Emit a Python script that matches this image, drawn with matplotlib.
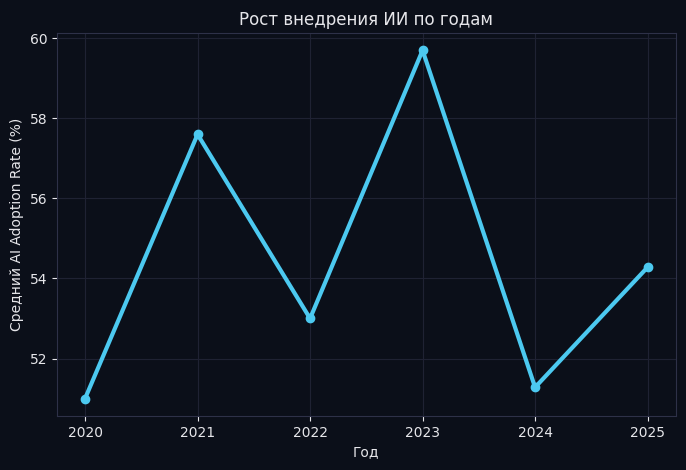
import matplotlib
matplotlib.use("Agg")
import matplotlib.pyplot as plt

# data
years = [2020, 2021, 2022, 2023, 2024, 2025]
adoption = [51.0, 57.6, 53.0, 59.7, 51.28, 54.28]

bg = "#0b0f19"
text_color = "#e6e6ea"
line_color = "#4cc9f0"
grid_color = "#1f2233"
spine_color = "#2e3148"

fig, ax = plt.subplots(figsize=(6.86, 4.70), dpi=100)
fig.patch.set_facecolor(bg)
ax.set_facecolor(bg)

ax.plot(years, adoption, color=line_color, linewidth=3, marker="o", markersize=6)

ax.set_title("Рост внедрения ИИ по годам", color=text_color, fontsize=12)
ax.set_xlabel("Год", color=text_color, fontsize=10)
ax.set_ylabel("Средний AI Adoption Rate (%)", color=text_color, fontsize=10)

ax.set_xticks(years)
ax.set_yticks([52, 54, 56, 58, 60])
ax.tick_params(colors=text_color, labelsize=10)
ax.grid(True, color=grid_color, linewidth=0.8)
for s in ax.spines.values():
    s.set_color(spine_color)

fig.subplots_adjust(left=0.083, right=0.985, top=0.93, bottom=0.115)
fig.savefig("out.png", dpi=100, facecolor=bg)
